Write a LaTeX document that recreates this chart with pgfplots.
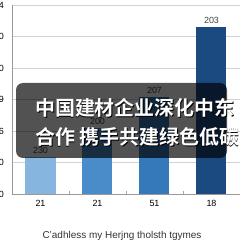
\documentclass[border=0pt]{standalone}
\usepackage{pgfplots}
\pgfplotsset{compat=1.18}
\usepackage{fontspec}
\setmainfont{Liberation Sans}
\newfontfamily\cjkb{Noto Sans CJK SC Bold}
\definecolor{bA}{HTML}{86B5DF}
\definecolor{bB}{HTML}{4A8BCA}
\definecolor{bC}{HTML}{3579BA}
\definecolor{bD}{HTML}{1A4A80}
\begin{document}
\begin{tikzpicture}[x=1bp,y=1bp]
\begin{axis}[
  at={(12bp,49bp)}, anchor=south west,
  scale only axis, width=228bp, height=189bp,
  xmin=-0.5, xmax=3.5, ymin=0, ymax=240,
  axis x line*=bottom, axis y line*=left,
  axis line style={draw=gray!80, -},
  xtick={0,1,2,3}, xticklabels={21,21,51,18},
  minor xtick={0.5,1.5,2.5},
  ytick={0,40,80,120,160,200,240},
  yticklabels={0,40,86,119,160,200,244},
  ymajorgrids, grid style={gray!35, line width=0.5pt},
  major tick length=0pt, minor tick length=3pt,
  tick style={gray!70},
  xticklabel style={font=\fontsize{9}{10}\selectfont, yshift=-3bp},
  yticklabel style={font=\fontsize{9}{10}\selectfont, xshift=-4.5bp},
  /pgf/number format/assume math mode=true,
  nodes near coords, point meta=explicit symbolic,
  every node near coord/.append style={font=\fontsize{9}{10}\selectfont, text=black!75},
  clip=false,
]
\addplot[ybar, bar width=30bp, fill=bA, draw=none] coordinates {(0,47) [230]};
\addplot[ybar, bar width=30bp, fill=bB, draw=none] coordinates {(1,84) [200]};
\addplot[ybar, bar width=30bp, fill=bC, draw=none] coordinates {(2,123) [207]};
\addplot[ybar, bar width=30bp, fill=bD, draw=none] coordinates {(3,212) [203]};
\end{axis}
\node[font=\fontsize{10}{12}\selectfont, text=black!80] at (122bp,7bp) {C'adhless my Herjng tholsth tgymes};
\fill[black, opacity=0.68, rounded corners=7bp] (16bp,85bp) rectangle (227bp,160bp);
\node[anchor=west, font=\cjkb\fontsize{20}{22}\selectfont, text=black, inner sep=0pt] at (35.8bp,134.2bp) {中国建材企业深化中东};
\node[anchor=west, font=\cjkb\fontsize{20}{22}\selectfont, text=white, inner sep=0pt] at (35bp,135bp) {中国建材企业深化中东};
\node[anchor=west, font=\cjkb\fontsize{20}{22}\selectfont, text=black, inner sep=0pt] at (35.8bp,105.2bp) {合作 携手共建绿色低碳};
\node[anchor=west, font=\cjkb\fontsize{20}{22}\selectfont, text=white, inner sep=0pt] at (35bp,106bp) {合作 携手共建绿色低碳};
\pgfresetboundingbox
\path[use as bounding box] (0,0) rectangle (243bp,243bp);
\end{tikzpicture}
\end{document}
